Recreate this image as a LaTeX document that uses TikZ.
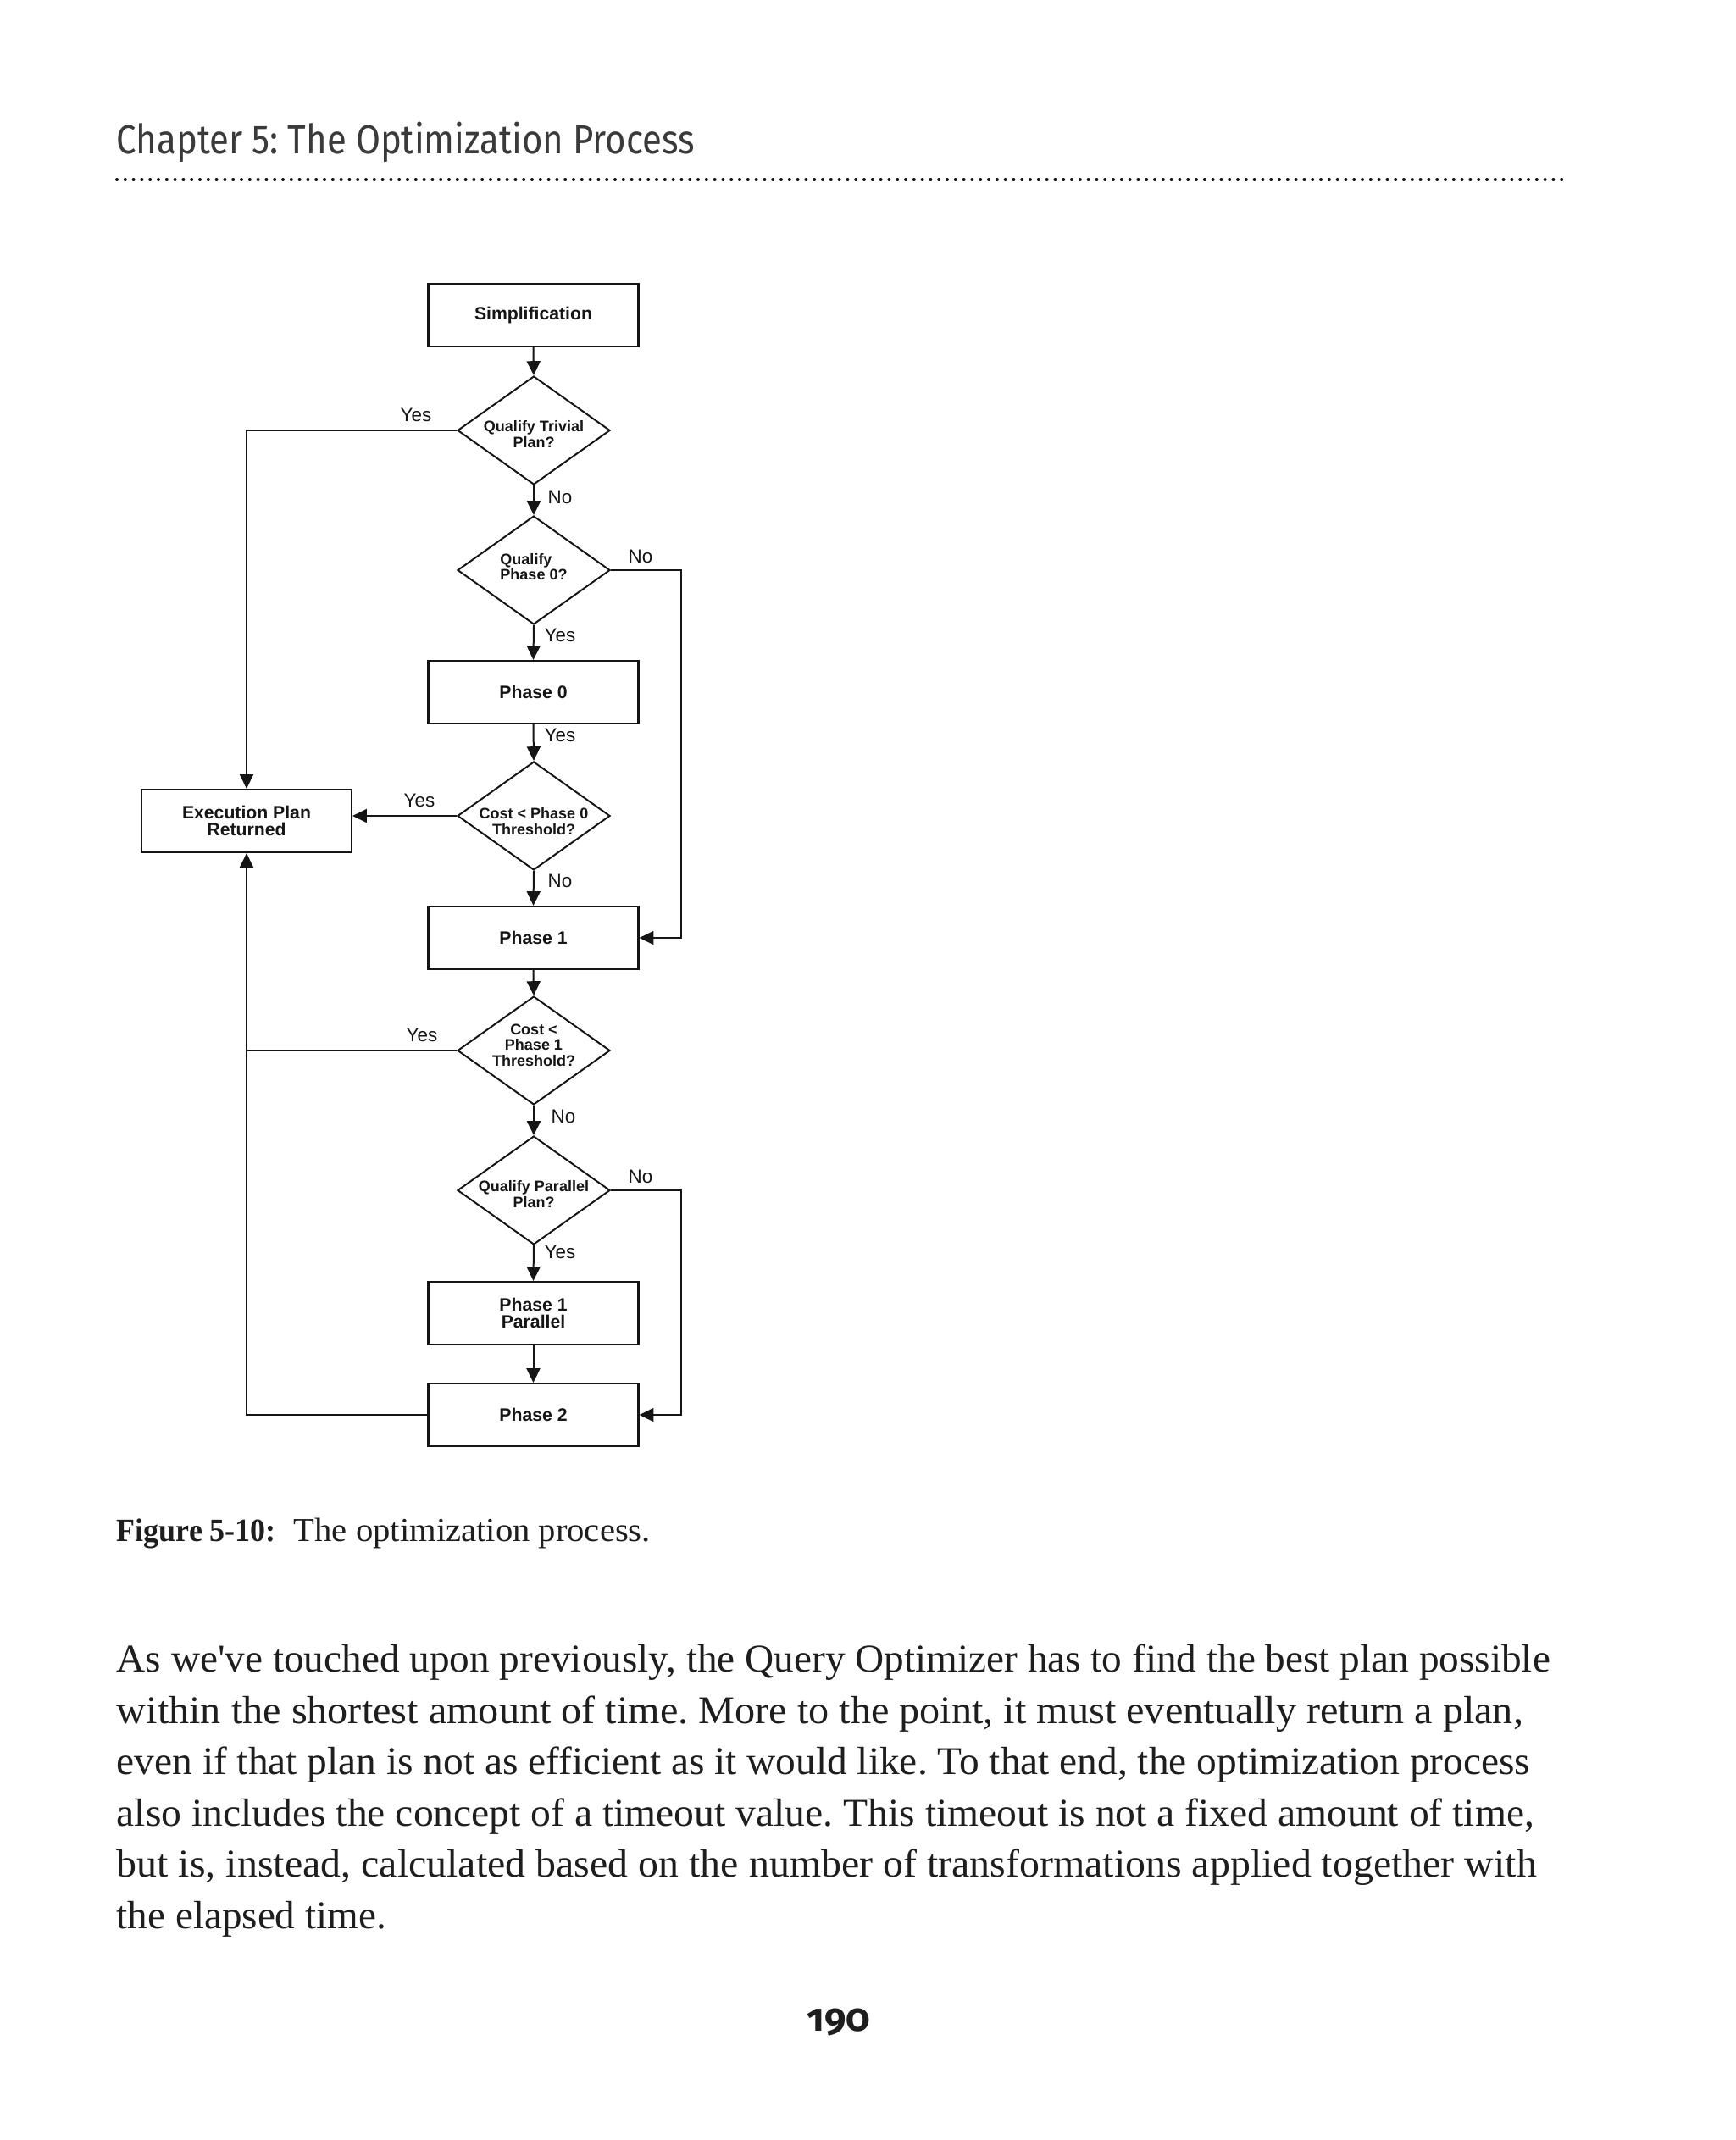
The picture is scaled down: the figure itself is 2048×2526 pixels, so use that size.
\documentclass[tikz,border=0pt]{standalone}
\usepackage{fontspec}
\usepackage{graphicx}
\setmainfont{Liberation Serif}
\newfontfamily\arialf{Liberation Sans}
\newfontfamily\firaf{Fira Sans}
\newfontfamily\firanum{Fira Sans}[Numbers=OldStyle]
\usetikzlibrary{arrows.meta,shapes.geometric,calc}
\definecolor{ink}{HTML}{151515}
\definecolor{txt}{HTML}{1E1E1E}
\definecolor{head}{HTML}{3A3A3A}
\frenchspacing
\begin{document}
\begin{tikzpicture}[x=0.25pt,y=-0.25pt,
  stepbox/.style={draw=ink, line width=0.55pt, fill=white, minimum width=62pt, minimum height=18.5pt,
    inner sep=0pt, font=\arialf\bfseries\fontsize{5.3}{5.2}\selectfont, align=center, text=ink},
  dia/.style={draw=ink, line width=0.5pt, shape=diamond, minimum width=45pt, minimum height=32pt, inner sep=0pt},
  dtext/.style={font=\arialf\bfseries\fontsize{4.5}{4.7}\selectfont, align=center, text=ink, inner sep=0pt},
  lab/.style={font=\arialf\fontsize{5.6}{6}\selectfont, text=ink, inner sep=0pt},
  arr/.style={line width=0.5pt, draw=ink, -{Triangle[length=4.2pt,width=4pt]}},
  con/.style={line width=0.5pt, draw=ink},
  body/.style={font=\fontsize{11.6}{14}\selectfont, text=txt, inner sep=0pt, anchor=base west}]
\path[use as bounding box, fill=white] (0,0) rectangle (2048,2526);

% header
\node[anchor=base west, inner sep=0pt, text=head, font=\firaf\fontsize{12}{14}\selectfont] (hdr) at (137,182)
  {\resizebox{170.5pt}{\height}{Chapter 5: The Optimization Process}};
\coordinate (dotA) at (138,212);
\coordinate (dotB) at (1845,212);
\draw[line width=1pt, line cap=round, dash pattern=on 0pt off 2.45pt, color=ink] (dotA) -- (dotB);

% flowchart nodes
\node[stepbox] (simp) at (629.5,372) {Simplification};
\node[dia, label={[dtext, yshift=-1.2pt]center:{Qualify Trivial\\Plan?}}] (d1) at (630,508) {};
\node[dia, label={[dtext, align=left, yshift=1pt]center:{Qualify\\Phase 0?}}] (d2) at (630,673) {};
\node[stepbox] (p0) at (629.5,817) {Phase 0};
\node[dia, label={[dtext, yshift=-1.6pt]center:{Cost < Phase 0\\Threshold?}}] (d3) at (630,963) {};
\node[stepbox] (exec) at (291,969) {Execution Plan\\Returned};
\node[stepbox] (p1) at (629.5,1107) {Phase 1};
\node[dia, label={[dtext, yshift=1.6pt]center:{Cost <\\Phase 1\\Threshold?}}] (d4) at (630,1240) {};
\node[dia, label={[dtext, yshift=-1.2pt]center:{Qualify Parallel\\Plan?}}] (d5) at (630,1405) {};
\node[stepbox] (p1p) at (629.5,1550) {Phase 1\\Parallel};
\node[stepbox] (p2) at (629.5,1670) {Phase 2};

\coordinate (rail) at (804,0);

% connectors
\draw[arr] (simp.south) -- (d1.north);
\draw[arr] (d1.west) -| (exec.north);
\draw[arr] (d1.south) -- (d2.north);
\draw[arr] (d2.east) -- (d2.east -| rail) |- (p1.east);
\draw[arr] (d2.south) -- (p0.north);
\draw[arr] (p0.south) -- (d3.north);
\draw[arr] (d3.west) -- (d3.west -| exec.east);
\draw[arr] (d3.south) -- (p1.north);
\draw[arr] (p1.south) -- (d4.north);
\draw[con] (d4.west) -- (d4.west -| exec.south);
\draw[arr] (d4.south) -- (d5.north);
\draw[arr] (d5.east) -- (d5.east -| rail) |- (p2.east);
\draw[arr] (d5.south) -- (p1p.north);
\draw[arr] (p1p.south) -- (p2.north);
\draw[arr] (p2.west) -| (exec.south);

% Yes / No labels
\node[lab] (l1) at (491,490) {Yes};
\node[lab] (l2) at (661,587) {No};
\node[lab] (l3) at (756,657) {No};
\node[lab] (l4) at (661,750) {Yes};
\node[lab] (l5) at (661,868) {Yes};
\node[lab] (l6) at (495,945) {Yes};
\node[lab] (l7) at (661,1040) {No};
\node[lab] (l8) at (498,1222) {Yes};
\node[lab] (l9) at (665,1318) {No};
\node[lab] (l10) at (756,1389) {No};
\node[lab] (l11) at (661,1478) {Yes};

% caption
\node[anchor=base west, inner sep=0pt, text=txt, font=\bfseries\fontsize{9.6}{12}\selectfont] (capA) at (137,1819)
  {\resizebox{47pt}{\height}{Figure 5-10:}};
\node[anchor=base west, inner sep=0pt, text=txt, font=\fontsize{9.9}{12}\selectfont] (capB) at (346,1819)
  {\resizebox{105.25pt}{\height}{The optimization process.}};

% body text
\node[body] (b1) at (137,1973) {\resizebox{423pt}{\height}{As we\textquotesingle ve touched upon previously, the Query Optimizer has to find the best plan possible}};
\node[body] (b2) at (137,2034) {\resizebox{415pt}{\height}{within the shortest amount of time. More to the point, it must eventually return a plan,}};
\node[body] (b3) at (137,2094) {\resizebox{417pt}{\height}{even if that plan is not as efficient as it would like. To that end, the optimization process}};
\node[body] (b4) at (137,2155) {\resizebox{418.25pt}{\height}{also includes the concept of a timeout value. This timeout is not a fixed amount of time,}};
\node[body] (b5) at (137,2215) {\resizebox{419pt}{\height}{but is, instead, calculated based on the number of transformations applied together with}};
\node[body] (b6) at (137,2276) {\resizebox{79.5pt}{\height}{the elapsed time.}};

% page number
\node[anchor=base, inner sep=0pt, text=txt, font=\firanum\bfseries\fontsize{11.4}{13}\selectfont] (pg) at (990,2397) {190};
\end{tikzpicture}
\end{document}
